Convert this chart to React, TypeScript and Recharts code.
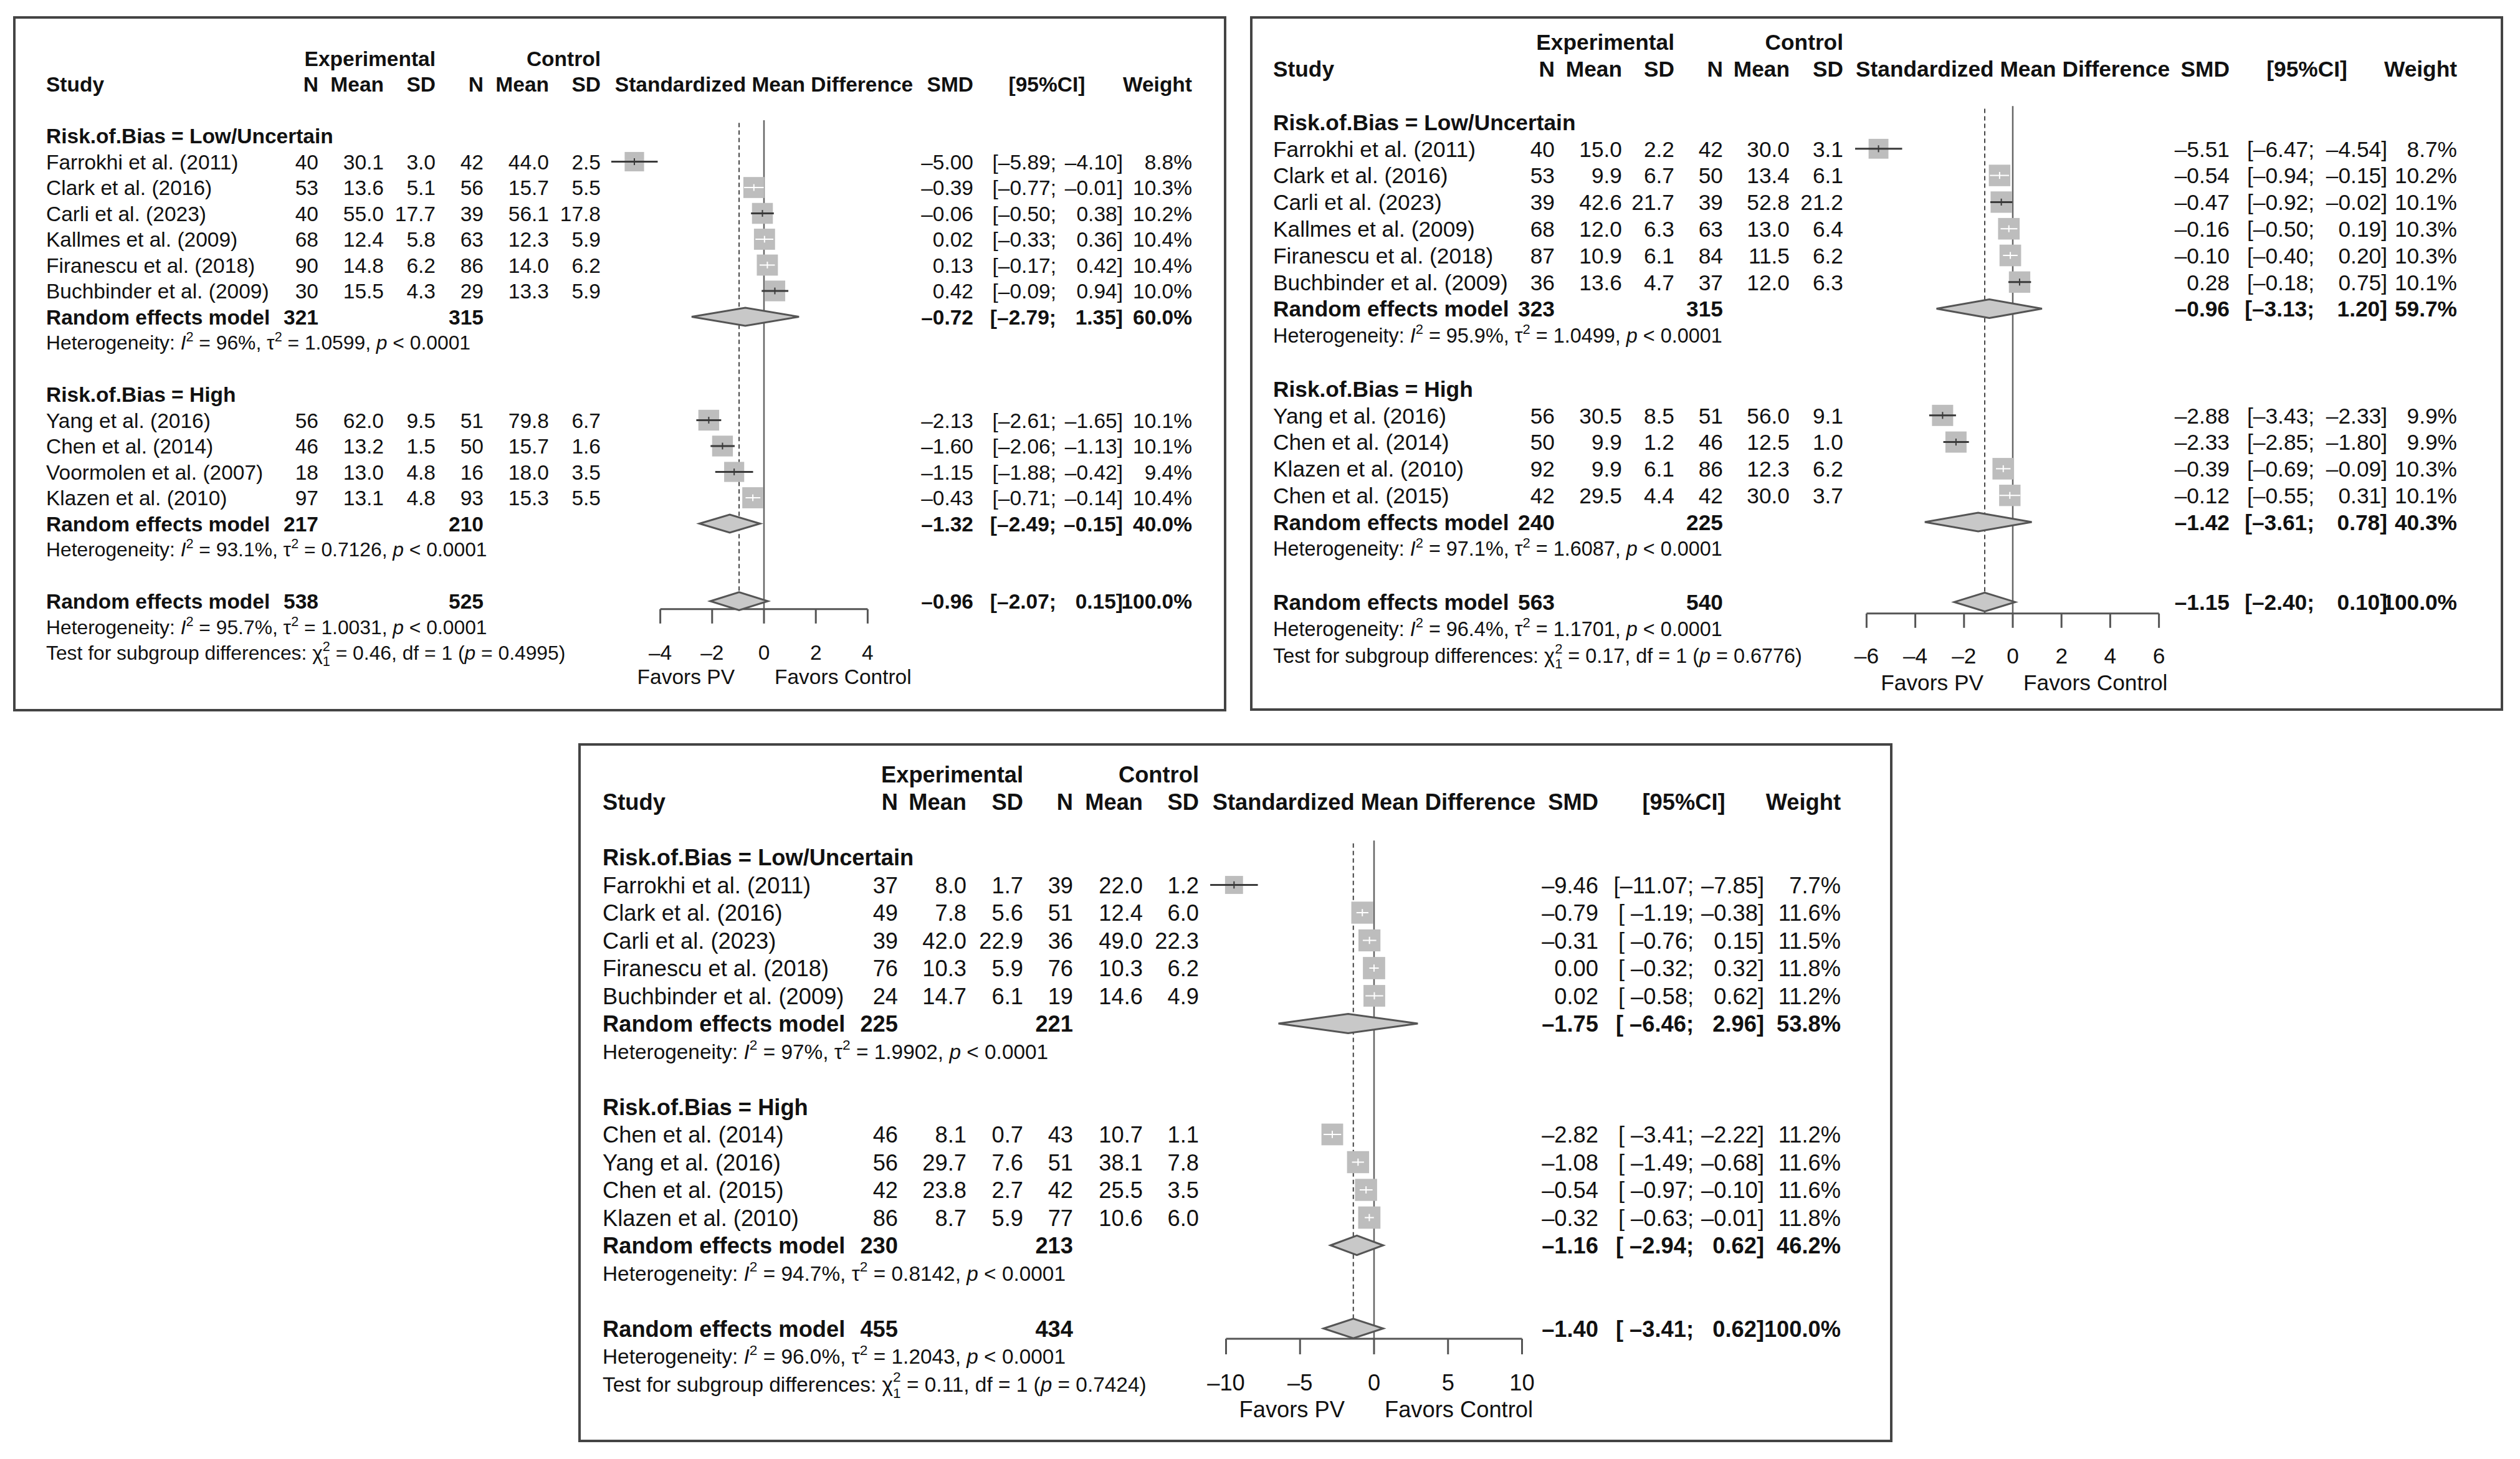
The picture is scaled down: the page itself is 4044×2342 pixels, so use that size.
import React from "react";
import { ScatterChart, Scatter, XAxis, YAxis, ReferenceLine, ReferenceArea } from "recharts";

const FONT = '"Liberation Sans", Arial, Helvetica, sans-serif';
const GROUP_LABELS = ["Risk.of.Bias = Low/Uncertain", "Risk.of.Bias = High"];

// ---- panel A (top left)
const aLowNames = ["Farrokhi et al. (2011)", "Clark et al. (2016)", "Carli et al. (2023)", "Kallmes et al. (2009)", "Firanescu et al. (2018)", "Buchbinder et al. (2009)"];
const aLowExp = [[40, 30.1, 3.0], [53, 13.6, 5.1], [40, 55.0, 17.7], [68, 12.4, 5.8], [90, 14.8, 6.2], [30, 15.5, 4.3]];
const aLowCtl = [[42, 44.0, 2.5], [56, 15.7, 5.5], [39, 56.1, 17.8], [63, 12.3, 5.9], [86, 14.0, 6.2], [29, 13.3, 5.9]];
const aLowSmd = [[-5.0, -5.89, -4.1, 8.8], [-0.39, -0.77, -0.01, 10.3], [-0.06, -0.5, 0.38, 10.2], [0.02, -0.33, 0.36, 10.4], [0.13, -0.17, 0.42, 10.4], [0.42, -0.09, 0.94, 10.0]];
const aHighNames = ["Yang et al. (2016)", "Chen et al. (2014)", "Voormolen et al. (2007)", "Klazen et al. (2010)"];
const aHighExp = [[56, 62.0, 9.5], [46, 13.2, 1.5], [18, 13.0, 4.8], [97, 13.1, 4.8]];
const aHighCtl = [[51, 79.8, 6.7], [50, 15.7, 1.6], [16, 18.0, 3.5], [93, 15.3, 5.5]];
const aHighSmd = [[-2.13, -2.61, -1.65, 10.1], [-1.6, -2.06, -1.13, 10.1], [-1.15, -1.88, -0.42, 9.4], [-0.43, -0.71, -0.14, 10.4]];
// pooled rows: [N exp, N ctl, SMD, lower, upper, weight]
const aPooled = [[321, 315, -0.72, -2.79, 1.35, 60.0], [217, 210, -1.32, -2.49, -0.15, 40.0], [538, 525, -0.96, -2.07, 0.15, 100.0]];
const aHet = [["96%", "1.0599"], ["93.1%", "0.7126"], ["95.7%", "1.0031"]];
const aTest = ["0.46", "0.4995"];
const aTicks = [-4, -2, 0, 2, 4];

// ---- panel B (top right)
const bLowNames = ["Farrokhi et al. (2011)", "Clark et al. (2016)", "Carli et al. (2023)", "Kallmes et al. (2009)", "Firanescu et al. (2018)", "Buchbinder et al. (2009)"];
const bLowExp = [[40, 15.0, 2.2], [53, 9.9, 6.7], [39, 42.6, 21.7], [68, 12.0, 6.3], [87, 10.9, 6.1], [36, 13.6, 4.7]];
const bLowCtl = [[42, 30.0, 3.1], [50, 13.4, 6.1], [39, 52.8, 21.2], [63, 13.0, 6.4], [84, 11.5, 6.2], [37, 12.0, 6.3]];
const bLowSmd = [[-5.51, -6.47, -4.54, 8.7], [-0.54, -0.94, -0.15, 10.2], [-0.47, -0.92, -0.02, 10.1], [-0.16, -0.5, 0.19, 10.3], [-0.1, -0.4, 0.2, 10.3], [0.28, -0.18, 0.75, 10.1]];
const bHighNames = ["Yang et al. (2016)", "Chen et al. (2014)", "Klazen et al. (2010)", "Chen et al. (2015)"];
const bHighExp = [[56, 30.5, 8.5], [50, 9.9, 1.2], [92, 9.9, 6.1], [42, 29.5, 4.4]];
const bHighCtl = [[51, 56.0, 9.1], [46, 12.5, 1.0], [86, 12.3, 6.2], [42, 30.0, 3.7]];
const bHighSmd = [[-2.88, -3.43, -2.33, 9.9], [-2.33, -2.85, -1.8, 9.9], [-0.39, -0.69, -0.09, 10.3], [-0.12, -0.55, 0.31, 10.1]];
const bPooled = [[323, 315, -0.96, -3.13, 1.2, 59.7], [240, 225, -1.42, -3.61, 0.78, 40.3], [563, 540, -1.15, -2.4, 0.1, 100.0]];
const bHet = [["95.9%", "1.0499"], ["97.1%", "1.6087"], ["96.4%", "1.1701"]];
const bTest = ["0.17", "0.6776"];
const bTicks = [-6, -4, -2, 0, 2, 4, 6];

// ---- panel C (bottom)
const cLowNames = ["Farrokhi et al. (2011)", "Clark et al. (2016)", "Carli et al. (2023)", "Firanescu et al. (2018)", "Buchbinder et al. (2009)"];
const cLowExp = [[37, 8.0, 1.7], [49, 7.8, 5.6], [39, 42.0, 22.9], [76, 10.3, 5.9], [24, 14.7, 6.1]];
const cLowCtl = [[39, 22.0, 1.2], [51, 12.4, 6.0], [36, 49.0, 22.3], [76, 10.3, 6.2], [19, 14.6, 4.9]];
const cLowSmd = [[-9.46, -11.07, -7.85, 7.7], [-0.79, -1.19, -0.38, 11.6], [-0.31, -0.76, 0.15, 11.5], [0.0, -0.32, 0.32, 11.8], [0.02, -0.58, 0.62, 11.2]];
const cHighNames = ["Chen et al. (2014)", "Yang et al. (2016)", "Chen et al. (2015)", "Klazen et al. (2010)"];
const cHighExp = [[46, 8.1, 0.7], [56, 29.7, 7.6], [42, 23.8, 2.7], [86, 8.7, 5.9]];
const cHighCtl = [[43, 10.7, 1.1], [51, 38.1, 7.8], [42, 25.5, 3.5], [77, 10.6, 6.0]];
const cHighSmd = [[-2.82, -3.41, -2.22, 11.2], [-1.08, -1.49, -0.68, 11.6], [-0.54, -0.97, -0.1, 11.6], [-0.32, -0.63, -0.01, 11.8]];
const cPooled = [[225, 221, -1.75, -6.46, 2.96, 53.8], [230, 213, -1.16, -2.94, 0.62, 46.2], [455, 434, -1.4, -3.41, 0.62, 100.0]];
const cHet = [["97%", "1.9902"], ["94.7%", "0.8142"], ["96.0%", "1.2043"]];
const cTest = ["0.11", "0.7424"];
const cTicks = [-10, -5, 0, 5, 10];

interface Layout {
  left: number; top: number; width: number; height: number;
  row0: number; step: number; axisR: number;
  zeroX: number; ppu: number; xLim: number;
  fs: number; hetFs: number; tick: number; k: number;
  labelOff: number; favOff: number;
  col: Record<string, number>;
}

const layoutA: Layout = {
  left: 21, top: 26, width: 1947, height: 1116, row0: 218, step: 41.5, axisR: 18.31,
  zeroX: 1226, ppu: 41.6, xLim: 6.5, fs: 33.5, hetFs: 31.8, tick: 23, k: 10.5, labelOff: 69, favOff: 108,
  col: { study: 74, eN: 511, eM: 616, eSD: 699, cN: 776, cM: 881, cSD: 964, smd: 1562, ciMid: 1695, ciEnd: 1802, ciHdr: 1680, wt: 1913 },
};
const layoutB: Layout = {
  left: 2006, top: 26, width: 2011, height: 1115, row0: 196, step: 42.8, axisR: 18.43,
  zeroX: 3230, ppu: 39.1, xLim: 7, fs: 35.3, hetFs: 32.4, tick: 23, k: 10.8, labelOff: 67, favOff: 110,
  col: { study: 2043, eN: 2495, eM: 2603, eSD: 2687, cN: 2765, cM: 2872, cSD: 2958, smd: 3578, ciMid: 3714, ciEnd: 3831, ciHdr: 3702, wt: 3943 },
};
const layoutC: Layout = {
  left: 928, top: 1193, width: 2109, height: 1122, row0: 1376, step: 44.5, axisR: 17.37,
  zeroX: 2205, ppu: 23.75, xLim: 12, fs: 36.3, hetFs: 33.4, tick: 25, k: 10.4, labelOff: 70, favOff: 113,
  col: { study: 967, eN: 1441, eM: 1551, eSD: 1642, cN: 1722, cM: 1834, cSD: 1924, smd: 2565, ciMid: 2718, ciEnd: 2831, ciHdr: 2702, wt: 2954 },
};

const panels = [
  {
    layout: layoutA,
    groups: [
      { names: aLowNames, exp: aLowExp, ctl: aLowCtl, eff: aLowSmd },
      { names: aHighNames, exp: aHighExp, ctl: aHighCtl, eff: aHighSmd },
    ],
    pooled: aPooled, het: aHet, test: aTest, ticks: aTicks,
  },
  {
    layout: layoutB,
    groups: [
      { names: bLowNames, exp: bLowExp, ctl: bLowCtl, eff: bLowSmd },
      { names: bHighNames, exp: bHighExp, ctl: bHighCtl, eff: bHighSmd },
    ],
    pooled: bPooled, het: bHet, test: bTest, ticks: bTicks,
  },
  {
    layout: layoutC,
    groups: [
      { names: cLowNames, exp: cLowExp, ctl: cLowCtl, eff: cLowSmd },
      { names: cHighNames, exp: cHighExp, ctl: cHighCtl, eff: cHighSmd },
    ],
    pooled: cPooled, het: cHet, test: cTest, ticks: cTicks,
  },
];

const Y_TOP = -3.7;

const fmt = (v: number, d: number) => v.toFixed(d).replace("-", "\u2013");

function buildRows(panel: any) {
  const rows: any[] = [{ r: -3, kind: "arm" }, { r: -2, kind: "head" }];
  let r = 0;
  panel.groups.forEach((g: any, gi: number) => {
    rows.push({ r: r++, kind: "group", label: GROUP_LABELS[gi] });
    g.names.forEach((name: string, i: number) => {
      rows.push({ r: r++, kind: "study", name, exp: g.exp[i], ctl: g.ctl[i], eff: g.eff[i] });
    });
    rows.push({ r: r++, kind: "pooled", p: panel.pooled[gi] });
    rows.push({ r: r, kind: "het", h: panel.het[gi] });
    r += 2;
  });
  rows.push({ r: r++, kind: "pooled", p: panel.pooled[2] });
  rows.push({ r: r++, kind: "het", h: panel.het[2] });
  rows.push({ r: r, kind: "test", t: panel.test });
  return rows;
}

function Txt({ x, y, fs, anchor = "start", bold = false, children }: any) {
  return (
    <text x={x} y={y} dy="0.36em" fontSize={fs} fontFamily={FONT} fontWeight={bold ? 700 : 400}
      textAnchor={anchor} fill="#111" style={{ whiteSpace: "pre" }}>
      {children}
    </text>
  );
}

function Het({ x, y, fs, i2, tau2 }: any) {
  const s = fs * 0.68;
  const up = fs * 0.42;
  return (
    <text x={x} y={y} dy="0.36em" fontSize={fs} fontFamily={FONT} fill="#111" style={{ whiteSpace: "pre" }}>
      <tspan>{"Heterogeneity: "}</tspan>
      <tspan fontStyle="italic">I</tspan>
      <tspan fontSize={s} dy={-up}>2</tspan>
      <tspan dy={up}>{` = ${i2}, \u03c4`}</tspan>
      <tspan fontSize={s} dy={-up}>2</tspan>
      <tspan dy={up}>{` = ${tau2}, `}</tspan>
      <tspan fontStyle="italic">p</tspan>
      <tspan>{" < 0.0001"}</tspan>
    </text>
  );
}

function Test({ x, y, fs, chi, p }: any) {
  const s = fs * 0.68;
  const up = fs * 0.45;
  const down = fs * 0.3;
  return (
    <text x={x} y={y} dy="0.36em" fontSize={fs} fontFamily={FONT} fill="#111" style={{ whiteSpace: "pre" }}>
      <tspan>{"Test for subgroup differences: \u03c7"}</tspan>
      <tspan fontSize={s} dy={-up}>2</tspan>
      <tspan fontSize={s} dx={-s * 0.556} dy={up + down}>1</tspan>
      <tspan dy={-down}>{` = ${chi}, df = 1 (`}</tspan>
      <tspan fontStyle="italic">p</tspan>
      <tspan>{` = ${p})`}</tspan>
    </text>
  );
}

function Forest({ panel }: any) {
  const L: Layout = panel.layout;
  const rows = buildRows(panel);
  const byR = new Map(rows.map((row) => [row.r, row]));
  const plotLeft = L.zeroX - L.left - L.xLim * L.ppu;
  const plotWidth = 2 * L.xLim * L.ppu;
  const plotTop = L.row0 - L.top + Y_TOP * L.step;
  const plotBottom = L.row0 - L.top + L.axisR * L.step;
  const cx = (k: string) => L.col[k] - L.left;

  const studyRows = rows.filter((row) => row.kind === "study");
  const pooledRows = rows.filter((row) => row.kind === "pooled");
  const points = studyRows.map((row) => ({ x: row.eff[0], y: row.r, w: row.eff[3] }));
  const overall = panel.pooled[2][2];
  const allLo = [...studyRows.map((row) => row.eff[1]), ...pooledRows.map((row) => row.p[3])];
  const loLen = Math.max(...allLo.map((v: number) => fmt(v, 2).length));

  const ciParts = (lo: number, hi: number) => {
    const l = fmt(lo, 2);
    return ["[" + " ".repeat(loLen - l.length) + l + ";", fmt(hi, 2) + "]"];
  };

  const rightCols = (smd: number, lo: number, hi: number, w: number, y: number, bold: boolean) => {
    const [a, b] = ciParts(lo, hi);
    return (
      <>
        <Txt x={cx("smd")} y={y} fs={L.fs} anchor="end" bold={bold}>{fmt(smd, 2)}</Txt>
        <Txt x={cx("ciMid")} y={y} fs={L.fs} anchor="end" bold={bold}>{a}</Txt>
        <Txt x={cx("ciEnd")} y={y} fs={L.fs} anchor="end" bold={bold}>{b}</Txt>
        <Txt x={cx("wt")} y={y} fs={L.fs} anchor="end" bold={bold}>{fmt(w, 1) + "%"}</Txt>
      </>
    );
  };

  const renderRow = (props: any) => {
    const row: any = byR.get(props.payload.value);
    const y = props.y;
    if (!row) return <g />;
    const fs = L.fs;
    if (row.kind === "arm") {
      return (
        <g>
          <Txt x={cx("eSD")} y={y} fs={fs} anchor="end" bold>Experimental</Txt>
          <Txt x={cx("cSD")} y={y} fs={fs} anchor="end" bold>Control</Txt>
        </g>
      );
    }
    if (row.kind === "head") {
      return (
        <g>
          <Txt x={cx("study")} y={y} fs={fs} bold>Study</Txt>
          <Txt x={cx("eN")} y={y} fs={fs} anchor="end" bold>N</Txt>
          <Txt x={cx("eM")} y={y} fs={fs} anchor="end" bold>Mean</Txt>
          <Txt x={cx("eSD")} y={y} fs={fs} anchor="end" bold>SD</Txt>
          <Txt x={cx("cN")} y={y} fs={fs} anchor="end" bold>N</Txt>
          <Txt x={cx("cM")} y={y} fs={fs} anchor="end" bold>Mean</Txt>
          <Txt x={cx("cSD")} y={y} fs={fs} anchor="end" bold>SD</Txt>
          <Txt x={L.zeroX - L.left} y={y} fs={fs} anchor="middle" bold>Standardized Mean Difference</Txt>
          <Txt x={cx("smd")} y={y} fs={fs} anchor="end" bold>SMD</Txt>
          <Txt x={cx("ciHdr")} y={y} fs={fs} anchor="middle" bold>[95%CI]</Txt>
          <Txt x={cx("wt")} y={y} fs={fs} anchor="end" bold>Weight</Txt>
        </g>
      );
    }
    if (row.kind === "group") {
      return <Txt x={cx("study")} y={y} fs={fs} bold>{row.label}</Txt>;
    }
    if (row.kind === "study") {
      const [smd, lo, hi, w] = row.eff;
      return (
        <g>
          <Txt x={cx("study")} y={y} fs={fs}>{row.name}</Txt>
          <Txt x={cx("eN")} y={y} fs={fs} anchor="end">{String(row.exp[0])}</Txt>
          <Txt x={cx("eM")} y={y} fs={fs} anchor="end">{fmt(row.exp[1], 1)}</Txt>
          <Txt x={cx("eSD")} y={y} fs={fs} anchor="end">{fmt(row.exp[2], 1)}</Txt>
          <Txt x={cx("cN")} y={y} fs={fs} anchor="end">{String(row.ctl[0])}</Txt>
          <Txt x={cx("cM")} y={y} fs={fs} anchor="end">{fmt(row.ctl[1], 1)}</Txt>
          <Txt x={cx("cSD")} y={y} fs={fs} anchor="end">{fmt(row.ctl[2], 1)}</Txt>
          {rightCols(smd, lo, hi, w, y, false)}
        </g>
      );
    }
    if (row.kind === "pooled") {
      const [nE, nC, smd, lo, hi, w] = row.p;
      return (
        <g>
          <Txt x={cx("study")} y={y} fs={fs} bold>Random effects model</Txt>
          <Txt x={cx("eN")} y={y} fs={fs} anchor="end" bold>{String(nE)}</Txt>
          <Txt x={cx("cN")} y={y} fs={fs} anchor="end" bold>{String(nC)}</Txt>
          {rightCols(smd, lo, hi, w, y, true)}
        </g>
      );
    }
    if (row.kind === "het") {
      return <Het x={cx("study")} y={y} fs={L.hetFs} i2={row.h[0]} tau2={row.h[1]} />;
    }
    return <Test x={cx("study")} y={y} fs={L.hetFs} chi={row.t[0]} p={row.t[1]} />;
  };

  const renderXTick = (props: any) => {
    const { x, y, payload } = props;
    const axisY = y - L.tick;
    const v = payload.value;
    return (
      <g>
        <Txt x={x} y={axisY + L.labelOff} fs={L.fs} anchor="middle">{fmt(v, 0)}</Txt>
        {v === 0 && (
          <>
            <Txt x={x - 47} y={axisY + L.favOff} fs={L.fs} anchor="end">Favors PV</Txt>
            <Txt x={x + 17} y={axisY + L.favOff} fs={L.fs} anchor="start">Favors Control</Txt>
          </>
        )}
      </g>
    );
  };

  const square = (props: any) => {
    const side = L.k * Math.sqrt(props.payload.w);
    return <rect x={props.cx - side / 2} y={props.cy - side / 2} width={side} height={side} fill="#bdbdbd" />;
  };

  const diamond = (est: number, lo: number, hi: number) => (p: any) => {
    const ax = p.x + (p.width * (est - lo)) / (hi - lo);
    const my = p.y + p.height / 2;
    return (
      <polygon
        points={`${p.x},${my} ${ax},${p.y} ${p.x + p.width},${my} ${ax},${p.y + p.height}`}
        fill="#c8c8c8" stroke="#555" strokeWidth={3}
      />
    );
  };

  const ticks = panel.ticks;

  return (
    <div style={{ position: "absolute", left: L.left, top: L.top, width: L.width, height: L.height, background: "#fff" }}>
      <ScatterChart
        width={L.width}
        height={L.height}
        margin={{ top: plotTop, right: L.width - plotLeft - plotWidth, bottom: 0, left: 0 }}
      >
        <XAxis
          type="number" dataKey="x" domain={[-L.xLim, L.xLim]} allowDataOverflow
          ticks={ticks} interval={0} axisLine={false}
          tickLine={{ stroke: "#555", strokeWidth: 3 }} tickSize={L.tick} tickMargin={0}
          height={L.height - plotBottom} tick={renderXTick}
        />
        <YAxis
          type="number" dataKey="y" domain={[Y_TOP, L.axisR]} reversed allowDataOverflow
          ticks={rows.map((row) => row.r)} interval={0} axisLine={false} tickLine={false}
          width={plotLeft} tick={renderRow}
        />
        <ReferenceLine segment={[{ x: 0, y: -0.6 }, { x: 0, y: L.axisR }]} stroke="#666" strokeWidth={2.5} ifOverflow="visible" />
        <ReferenceLine segment={[{ x: overall, y: -0.5 }, { x: overall, y: L.axisR }]} stroke="#444" strokeWidth={2} strokeDasharray="7 5" ifOverflow="visible" />
        <ReferenceLine segment={[{ x: ticks[0], y: L.axisR }, { x: ticks[ticks.length - 1], y: L.axisR }]} stroke="#555" strokeWidth={3} ifOverflow="visible" />
        <Scatter data={points} shape={square} isAnimationActive={false} />
        {studyRows.map((row) => {
          const [smd, lo, hi, w] = row.eff;
          const inside = (hi - lo) * L.ppu < L.k * Math.sqrt(w);
          const col = inside ? "#ffffff" : "#3a3a3a";
          return (
            <React.Fragment key={"ci" + row.r}>
              <ReferenceLine segment={[{ x: lo, y: row.r }, { x: hi, y: row.r }]} stroke={col} strokeWidth={inside ? 2 : 3} ifOverflow="visible" zIndex={700} />
              <ReferenceLine segment={[{ x: smd, y: row.r - 0.13 }, { x: smd, y: row.r + 0.13 }]} stroke={col} strokeWidth={2} ifOverflow="visible" zIndex={700} />
            </React.Fragment>
          );
        })}
        {pooledRows.map((row) => {
          const [, , est, lo, hi] = row.p;
          return (
            <ReferenceArea
              key={"d" + row.r} x1={lo} x2={hi} y1={row.r - 0.35} y2={row.r + 0.35}
              ifOverflow="visible" shape={diamond(est, lo, hi)} zIndex={800}
            />
          );
        })}
      </ScatterChart>
      <div style={{ position: "absolute", inset: 0, border: "4px solid #444", boxSizing: "border-box", pointerEvents: "none" }} />
    </div>
  );
}

export default function App() {
  return (
    <div style={{ position: "absolute", left: 0, top: 0, width: 4044, height: 2342, background: "#fff", overflow: "hidden" }}>
      {panels.map((p, i) => (
        <Forest key={i} panel={p} />
      ))}
    </div>
  );
}
